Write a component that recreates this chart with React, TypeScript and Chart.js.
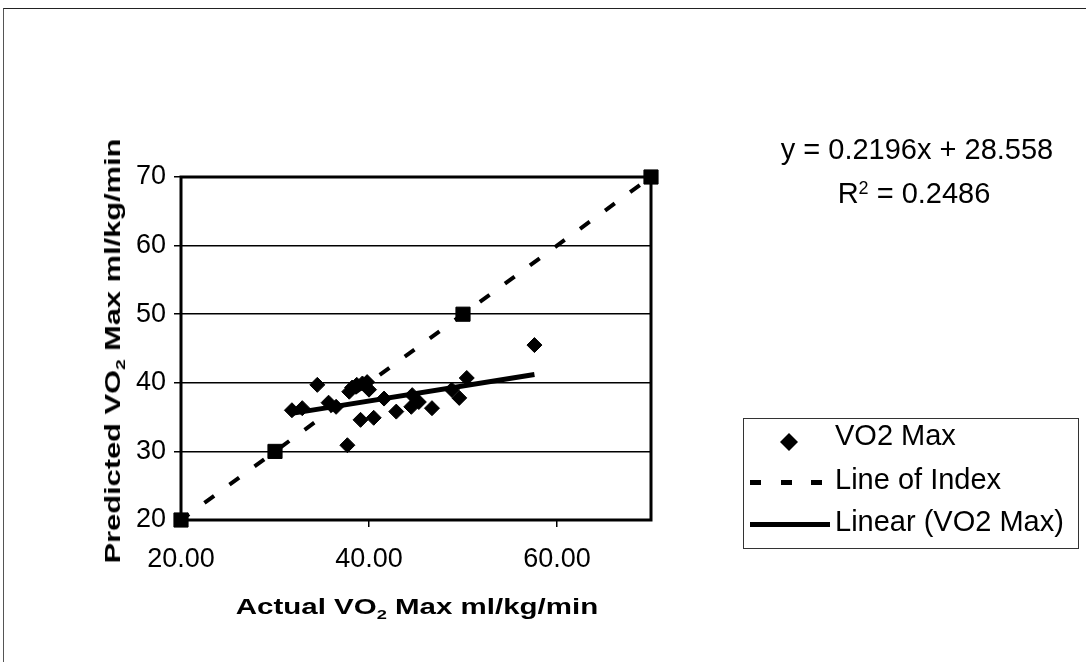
import React, { useEffect, useRef } from "react";
import { Chart, registerables } from "chart.js";

Chart.register(...registerables);

// ---- Data ----
const VO2_X = [31.8, 32.9, 34.5, 35.7, 36.5, 37.7, 37.9, 38.2, 38.7, 39.1, 39.3, 39.8, 40.0, 40.5, 41.6, 42.9, 44.5, 44.6, 45.3, 46.7, 48.8, 49.6, 50.4, 57.6];
const VO2_Y = [36.0, 36.3, 39.7, 37.1, 36.5, 30.9, 38.7, 39.3, 39.7, 34.6, 39.9, 40.1, 39.0, 34.9, 37.7, 35.8, 36.5, 38.2, 37.2, 36.3, 39.0, 37.8, 40.7, 45.5];
const INDEX_X = [20, 30, 50, 70];
const INDEX_Y = [20, 30, 50, 70];
const TREND_SLOPE = 0.2196;
const TREND_INTERCEPT = 28.558;
const R_SQUARED = 0.2486;
const X_TICKS = [20, 40, 60];
const Y_TICKS = [20, 30, 40, 50, 60, 70];
const AXIS_MIN = 20;
const AXIS_MAX = 70;

const SERIES_LABEL = "VO2 Max";
const INDEX_LABEL = "Line of Index";
const TREND_LABEL = "Linear (VO2 Max)";

const FONT = "'Liberation Sans', Arial, sans-serif";

const framePlugin = {
  id: "plotFrame",
  beforeDatasetsDraw(chart: any) {
    const { ctx, chartArea: a } = chart;
    ctx.save();
    ctx.strokeStyle = "#000";
    ctx.lineWidth = 3;
    ctx.strokeRect(a.left, a.top, a.right - a.left, a.bottom - a.top);
    ctx.restore();
  },
};

function Txt(props: { x: number; y: number; size: number; bold?: boolean; align?: "left" | "center"; scale?: number; rotate?: boolean; children: any }) {
  const { x, y, size, bold, align = "center", scale = 1, rotate, children } = props;
  let transform = "";
  if (align === "center") transform += "translate(-50%,-50%) ";
  else transform += "translate(0,-50%) ";
  if (rotate) transform += "rotate(-90deg) ";
  if (scale !== 1) transform += `scaleX(${scale})`;
  return (
    <div
      style={{
        position: "absolute",
        left: x,
        top: y,
        fontFamily: FONT,
        fontSize: size,
        fontWeight: bold ? 700 : 400,
        lineHeight: 1,
        whiteSpace: "nowrap",
        color: "#000",
        transform,
        transformOrigin: align === "center" ? "center center" : "left center",
      }}
    >
      {children}
    </div>
  );
}

export default function App() {
  const ref = useRef<HTMLCanvasElement | null>(null);

  useEffect(() => {
    if (!ref.current) return;
    const pts = VO2_X.map((x, i) => ({ x, y: VO2_Y[i] }));
    const idx = INDEX_X.map((x, i) => ({ x, y: INDEX_Y[i] }));
    const xmin = Math.min(...VO2_X);
    const xmax = Math.max(...VO2_X);
    const trend = [
      { x: xmin, y: TREND_SLOPE * xmin + TREND_INTERCEPT },
      { x: xmax, y: TREND_SLOPE * xmax + TREND_INTERCEPT },
    ];
    const chart = new Chart(ref.current, {
      type: "scatter",
      data: {
        datasets: [
          {
            label: TREND_LABEL,
            data: trend,
            showLine: true,
            borderColor: "#000",
            borderWidth: 5,
            pointRadius: 0,
            order: 0,
            clip: false,
          } as any,
          {
            label: SERIES_LABEL,
            data: pts,
            showLine: false,
            pointStyle: "rectRot",
            pointRadius: 7.5,
            backgroundColor: "#000",
            borderColor: "#000",
            borderWidth: 1,
            order: 1,
            clip: false,
          } as any,
          {
            label: INDEX_LABEL,
            data: idx,
            showLine: true,
            borderColor: "#000",
            borderWidth: 4,
            borderDash: [12, 19],
            borderDashOffset: 2,
            pointStyle: "rect",
            pointRadius: 10,
            pointBackgroundColor: "#000",
            pointBorderColor: "#000",
            pointBorderWidth: 1,
            order: 2,
            clip: false,
          } as any,
        ],
      },
      options: {
        animation: false,
        responsive: false,
        layout: { padding: { left: 0, top: 177, right: 435, bottom: 0 } },
        plugins: { legend: { display: false }, tooltip: { enabled: false } },
        events: [],
        scales: {
          x: {
            type: "linear",
            min: AXIS_MIN,
            max: AXIS_MAX,
            afterBuildTicks: (s: any) => {
              s.ticks = X_TICKS.map((v) => ({ value: v }));
            },
            afterFit: (s: any) => {
              s.height = 142;
            },
            grid: { drawOnChartArea: false, drawTicks: true, tickLength: 7, color: "#000", lineWidth: 1.5 },
            border: { display: false },
            ticks: {
              color: "#000",
              font: { family: FONT, size: 27 },
              padding: 16,
              maxRotation: 0,
              autoSkip: false,
              callback: (v: any) => Number(v).toFixed(2),
            },
          },
          y: {
            type: "linear",
            min: AXIS_MIN,
            max: AXIS_MAX,
            afterBuildTicks: (s: any) => {
              s.ticks = Y_TICKS.map((v) => ({ value: v }));
            },
            afterFit: (s: any) => {
              s.width = 181;
            },
            grid: { color: "#000", lineWidth: 1.5, tickLength: 7 },
            border: { display: false },
            ticks: {
              color: "#000",
              font: { family: FONT, size: 27 },
              padding: 8,
              autoSkip: false,
            },
          },
        },
      } as any,
      plugins: [framePlugin],
    });
    return () => chart.destroy();
  }, []);

  const sub = (t: string) => (
    <span style={{ fontSize: "0.62em", position: "relative", top: "0.35em" }}>{t}</span>
  );
  const sup = (t: string) => (
    <span style={{ fontSize: "0.62em", position: "relative", top: "-0.5em" }}>{t}</span>
  );

  return (
    <div
      style={{
        position: "fixed",
        left: 0,
        top: 0,
        width: 1086,
        height: 662,
        overflow: "hidden",
        background: "#fff",
      }}
    >
      <div
        style={{
          position: "absolute",
          left: 3,
          top: 8,
          width: 1300,
          height: 900,
          borderTop: "1px solid #222",
          borderLeft: "1px solid #555",
        }}
      />
      <canvas ref={ref} width={1086} height={662} style={{ position: "absolute", left: 0, top: 0 }} />

      {/* Axis titles */}
      <Txt x={417} y={607} size={22} bold scale={1.34}>
        Actual VO{sub("2")} Max ml/kg/min
      </Txt>
      <Txt x={113} y={351} size={22} bold scale={1.4} rotate>
        Predicted VO{sub("2")} Max ml/kg/min
      </Txt>

      {/* Trendline equation */}
      <Txt x={917} y={149} size={29}>
        {`y = ${TREND_SLOPE}x + ${TREND_INTERCEPT}`}
      </Txt>
      <Txt x={914} y={193} size={29}>
        R{sup("2")} = {R_SQUARED}
      </Txt>

      {/* Legend */}
      <div
        style={{
          position: "absolute",
          left: 743,
          top: 418,
          width: 336,
          height: 131,
          boxSizing: "border-box",
          border: "1px solid #333",
        }}
      />
      <svg width={1086} height={662} style={{ position: "absolute", left: 0, top: 0 }}>
        <polygon points="789,433 798,442 789,451 780,442" fill="#000" />
        <rect x={750} y={480} width={11} height={5} fill="#000" />
        <rect x={781} y={480} width={11} height={5} fill="#000" />
        <rect x={811} y={480} width={11} height={5} fill="#000" />
        <rect x={750} y={522} width={80} height={5} fill="#000" />
      </svg>
      <Txt x={835} y={435} size={29} align="left">{SERIES_LABEL}</Txt>
      <Txt x={835} y={479} size={29} align="left">{INDEX_LABEL}</Txt>
      <Txt x={835} y={521} size={29} align="left">{TREND_LABEL}</Txt>
    </div>
  );
}
